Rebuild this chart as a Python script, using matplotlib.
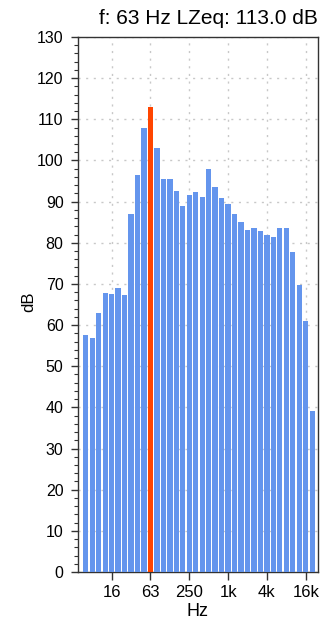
import matplotlib
matplotlib.use('Agg')
import matplotlib.pyplot as plt
from matplotlib.ticker import MultipleLocator

plt.rcParams['font.family'] = ['Liberation Sans', 'DejaVu Sans']

# 1/3 octave bands and levels (dB)
bands = ['6.3', '8', '10', '12.5', '16', '20', '25', '31.5', '40', '50',
         '63', '80', '100', '125', '160', '200', '250', '315', '400', '500',
         '630', '800', '1k', '1.25k', '1.6k', '2k', '2.5k', '3.15k', '4k', '5k',
         '6.3k', '8k', '10k', '12.5k', '16k', '20k']
levels = [57.6, 56.9, 62.9, 67.8, 67.5, 68.9, 67.2, 86.9, 96.4, 107.8,
          113.0, 103.0, 95.5, 95.5, 92.7, 89.0, 91.5, 92.3, 91.1, 97.9,
          93.6, 90.8, 89.5, 87.0, 85.0, 83.1, 83.5, 82.9, 81.8, 81.3,
          83.5, 83.5, 77.8, 69.7, 61.1, 39.0]
tick_bands = ['16', '63', '250', '1k', '4k', '16k']
selected = '63'

hi = bands.index(selected)
x = list(range(len(bands)))
colors = ['#ff4500' if i == hi else '#6495ed' for i in x]

fig = plt.figure(figsize=(3.28, 6.22), dpi=100)
ax = fig.add_axes([0.2363, 0.0804, 0.9695 - 0.2363, 0.9405 - 0.0804])

ax.bar(x, levels, width=0.82, color=colors, zorder=3)

ax.set_xlim(-1.28, 35.9)
ax.set_ylim(0, 130)
ax.set_xticks([bands.index(b) for b in tick_bands])
ax.set_xticklabels(tick_bands)
ax.yaxis.set_major_locator(MultipleLocator(10))
ax.yaxis.set_minor_locator(MultipleLocator(2))

ax.tick_params(axis='x', length=6, width=1, pad=3.5, labelsize=12, color='#333333')
ax.tick_params(axis='y', which='major', length=5, width=1, pad=5, labelsize=11.5, color='#333333')
ax.tick_params(axis='y', which='minor', length=3, width=0.8, color='#333333')

ax.grid(True, color='#c8c8c8', linestyle=(0, (1.5, 4)), linewidth=1, zorder=0)
for s in ax.spines.values():
    s.set_color('#333333')
    s.set_linewidth(1)

fig.text(29 / 328, 1 - 302 / 622, 'dB', rotation=90, ha='center', va='center', fontsize=12)
fig.text(0.603, 1 - 616 / 622, 'Hz', ha='center', va='baseline', fontsize=13)
fig.text(0.9695, 1 - 24 / 622,
         'f: %s Hz LZeq: %.1f dB' % (bands[hi], levels[hi]),
         ha='right', va='baseline', fontsize=15)

fig.savefig('out.png', dpi=100)
